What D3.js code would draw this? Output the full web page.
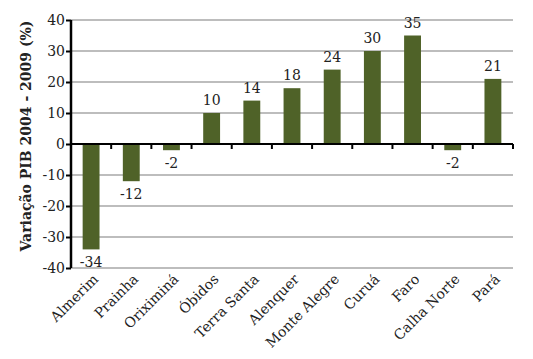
<!DOCTYPE html>
<html><head><meta charset="utf-8">
<script src="https://cdn.jsdelivr.net/npm/d3@7"></script>
<style>body{margin:0;background:#fff} svg text{font-family:"DejaVu Serif","Liberation Serif",serif;}</style>
</head><body>
<svg id="c" width="533" height="359"></svg>
<script>
const categories = ["Almerim","Prainha","Oriximiná","Óbidos","Terra Santa","Alenquer","Monte Alegre","Curuá","Faro","Calha Norte","Pará"];
const values = [-34,-12,-2,10,14,18,24,30,35,-2,21];
const yTicks = [40,30,20,10,0,-10,-20,-30,-40];
const yTitle = "Variação PIB 2004 - 2009 (%)";

const svg = d3.select("#c");
const m = {l:71, r:513, t:20, b:268};
const x = d3.scaleBand().domain(categories).range([m.l, m.r]).paddingInner(0.58).paddingOuter(0.29);
const xb = d3.scaleBand().domain(categories).range([m.l, m.r]);
const y = d3.scaleLinear().domain([-40,40]).range([m.b, m.t]);

// gridlines
svg.append("g").selectAll("line").data(yTicks.filter(d=>d!==0)).join("line")
  .attr("x1", m.l).attr("x2", m.r).attr("y1", d=>y(d)).attr("y2", d=>y(d))
  .attr("stroke", "#bdbdbd").attr("stroke-width", 2);

// bars
svg.append("g").selectAll("rect").data(values).join("rect")
  .attr("x", (d,i)=>x(categories[i])).attr("width", x.bandwidth())
  .attr("y", d=>y(Math.max(0,d))).attr("height", d=>Math.abs(y(d)-y(0)))
  .attr("fill", "#4f6228");

// y axis
const yAxis = d3.axisLeft(y).tickValues(yTicks).tickSize(5).tickFormat(d=>String(d));
const ga = svg.append("g").attr("transform", `translate(${m.l},0)`).call(yAxis);
ga.attr("font-family", null);
ga.select(".domain").attr("stroke","#000").attr("stroke-width",2.5).attr("d", `M0,${m.t}V${m.b}`);
ga.selectAll(".tick line").attr("stroke","#000").attr("stroke-width",2);
ga.selectAll(".tick text").attr("font-size", 14).attr("fill","#222").attr("x",-6);

// zero line with ticks at band boundaries
const gx = svg.append("g").attr("transform", `translate(0,${y(0)})`);
gx.append("path").attr("stroke","#000").attr("stroke-width",2).attr("d", `M${m.l},0H${m.r}`);
const bounds = categories.map(c=>xb(c)+xb.bandwidth());
gx.selectAll("line.bt").data(bounds).join("line").attr("class","bt")
  .attr("x1",d=>d).attr("x2",d=>d).attr("y1",0).attr("y2",5)
  .attr("stroke","#000").attr("stroke-width",2);

// value labels
svg.append("g").selectAll("text").data(values).join("text")
  .attr("x", (d,i)=>x(categories[i]) + x.bandwidth()/2)
  .attr("y", d=> d>=0 ? y(d)-8 : y(d)+18)
  .attr("text-anchor","middle").attr("font-size",14).attr("fill","#222")
  .text(d=>String(d));

// category labels
svg.append("g").selectAll("text").data(categories).join("text")
  .attr("transform", c=>`translate(${xb(c)+xb.bandwidth()/2+8},${m.b+12}) rotate(-45)`)
  .attr("text-anchor","end").attr("font-size",14).attr("fill","#222")
  .text(c=>c);

// y title
svg.append("text").attr("transform", `translate(31,${136}) rotate(-90)`)
  .attr("text-anchor","middle").attr("font-weight","bold").attr("font-size",14).attr("fill","#222")
  .text(yTitle);
</script>
</body></html>
